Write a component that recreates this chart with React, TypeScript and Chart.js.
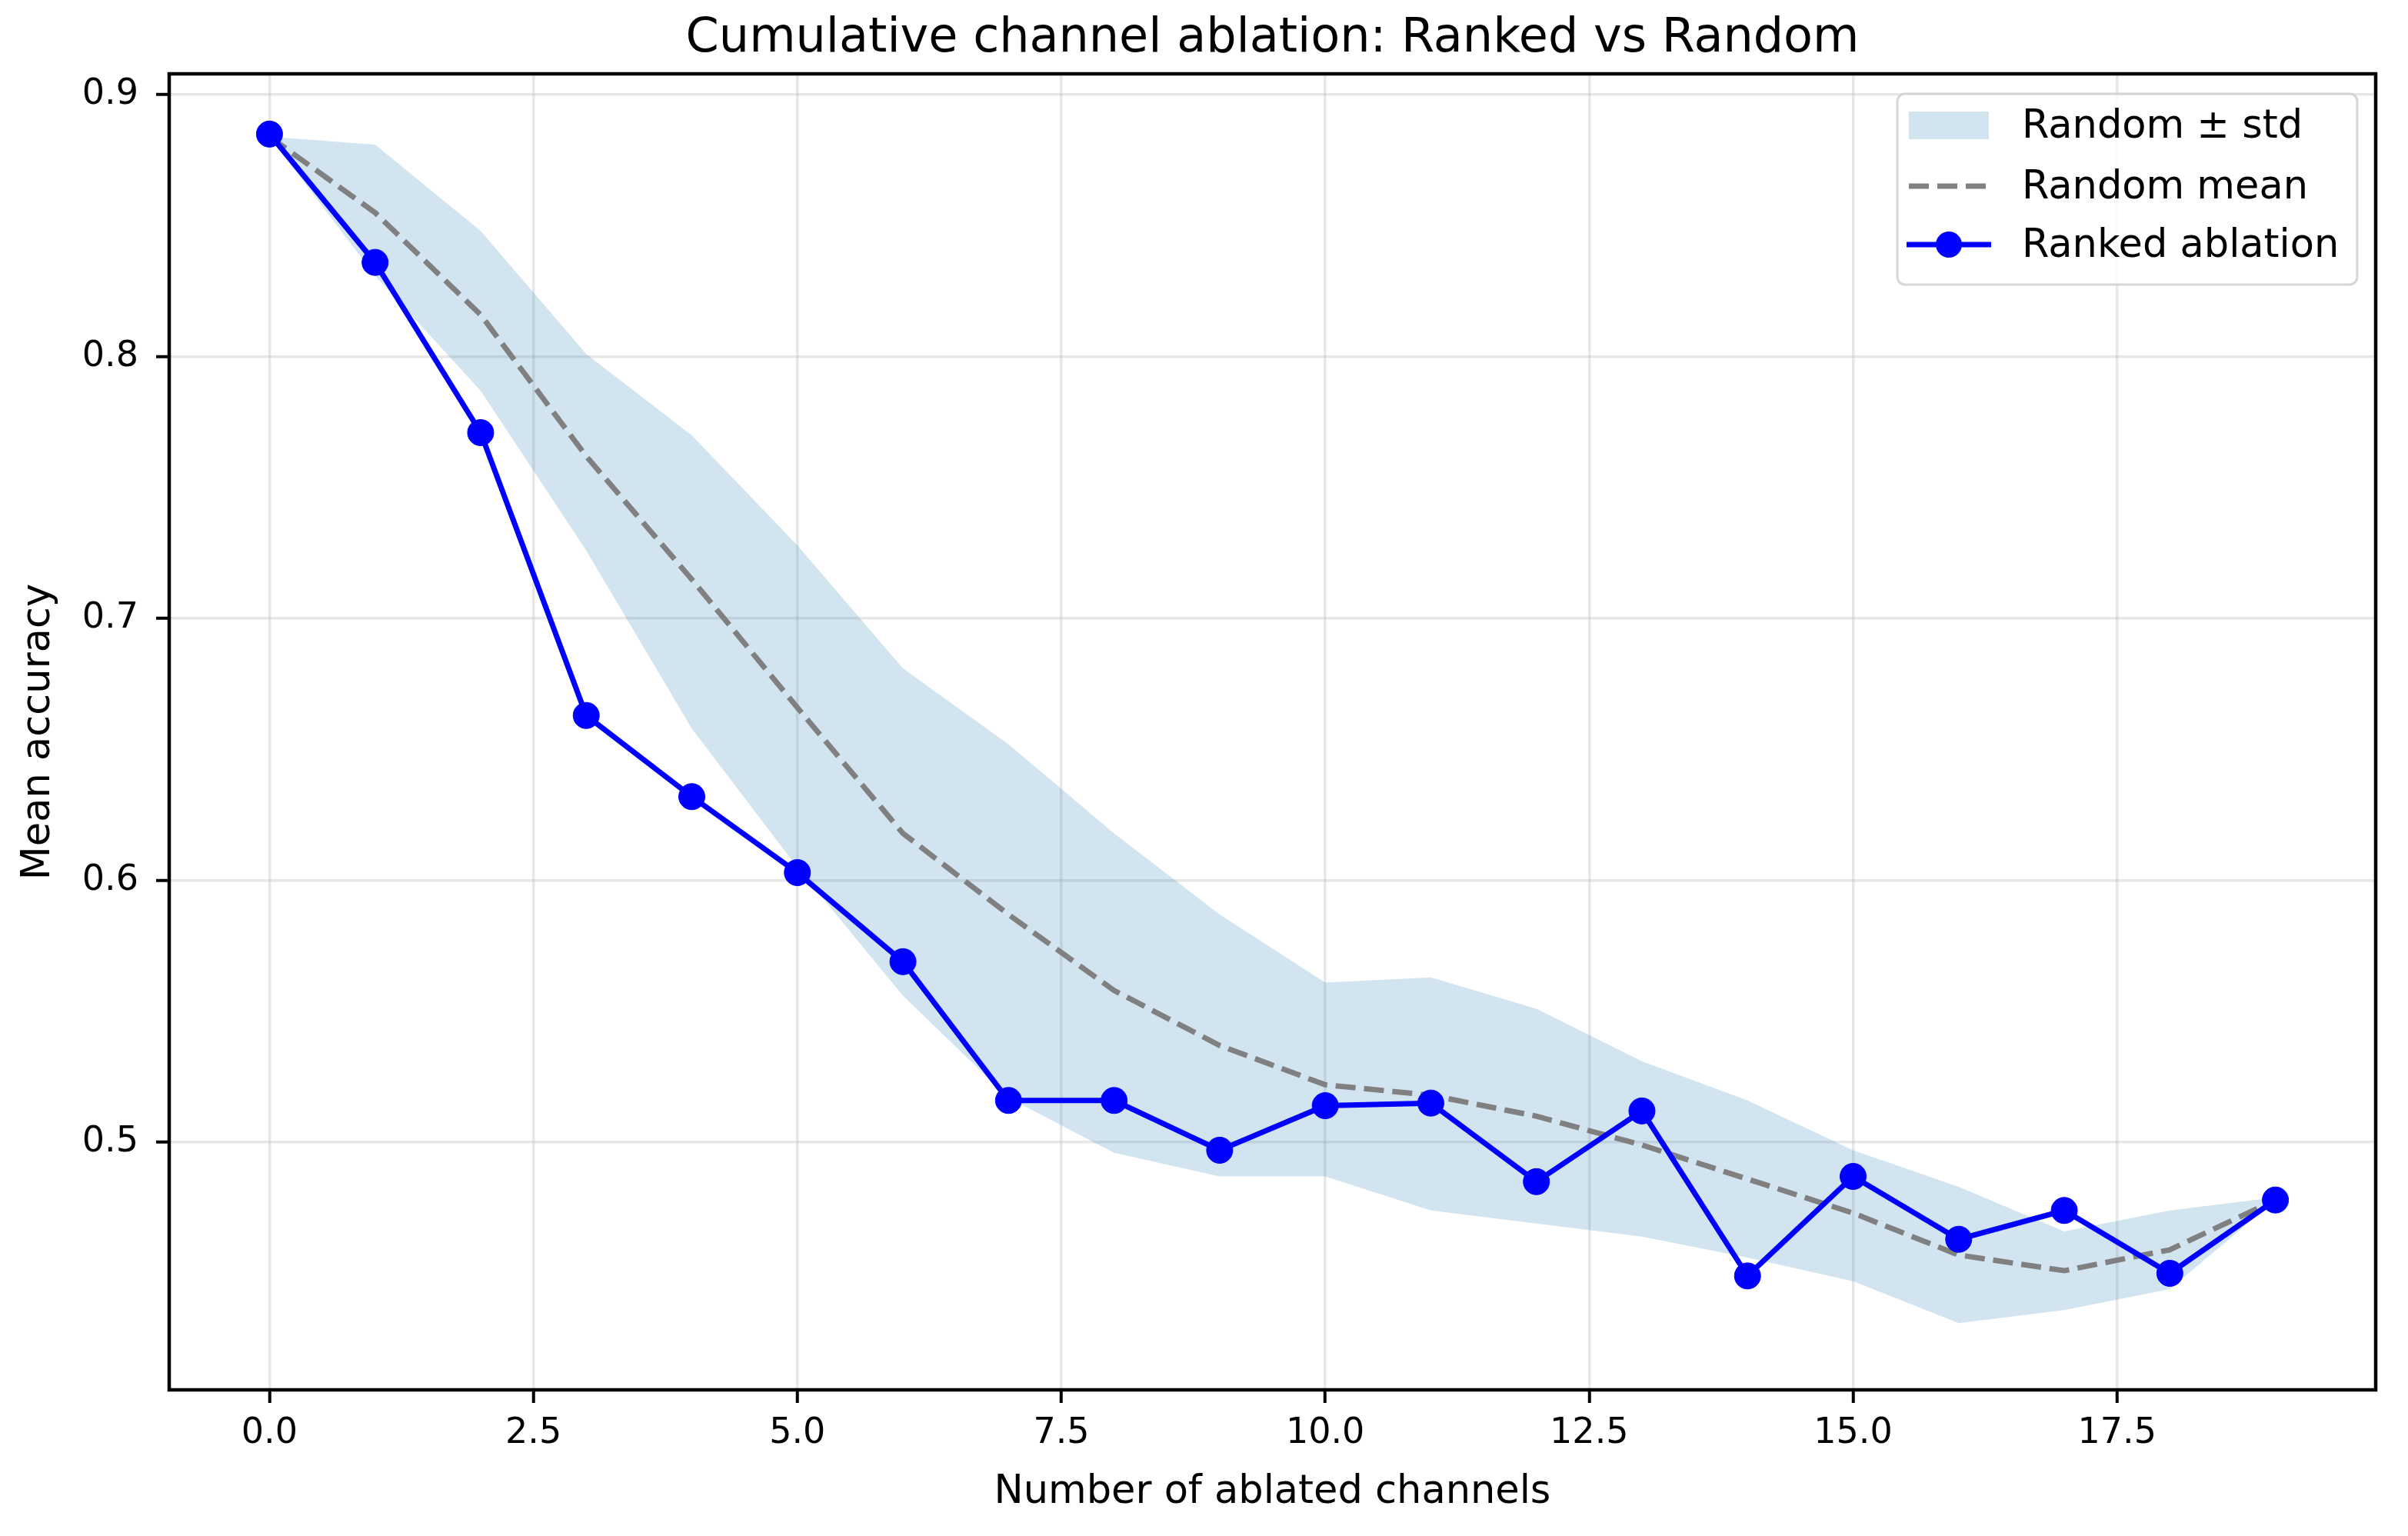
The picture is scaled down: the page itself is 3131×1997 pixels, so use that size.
import { useEffect, useRef } from 'react';
import { Chart, registerables } from 'chart.js';

Chart.register(...registerables);

const TITLE = 'Cumulative channel ablation: Ranked vs Random';
const X_LABEL = 'Number of ablated channels';
const Y_LABEL = 'Mean accuracy';

const channels = [0, 1, 2, 3, 4, 5, 6, 7, 8, 9, 10, 11, 12, 13, 14, 15, 16, 17, 18, 19];
const rankedAcc = [0.885, 0.836, 0.771, 0.663, 0.632, 0.603, 0.569, 0.516, 0.516, 0.497, 0.514, 0.515, 0.485, 0.512, 0.449, 0.487, 0.463, 0.474, 0.450, 0.478];
const randomMean = [0.884, 0.855, 0.816, 0.762, 0.715, 0.666, 0.618, 0.587, 0.558, 0.537, 0.522, 0.518, 0.510, 0.499, 0.486, 0.473, 0.457, 0.451, 0.459, 0.478];
const randomUpper = [0.884, 0.881, 0.848, 0.801, 0.770, 0.728, 0.681, 0.652, 0.618, 0.587, 0.561, 0.563, 0.551, 0.531, 0.516, 0.497, 0.483, 0.466, 0.474, 0.479];
const randomLower = [0.884, 0.831, 0.787, 0.726, 0.658, 0.605, 0.556, 0.517, 0.496, 0.487, 0.487, 0.474, 0.469, 0.464, 0.456, 0.447, 0.431, 0.436, 0.444, 0.478];

const xTicks = [0, 2.5, 5, 7.5, 10, 12.5, 15, 17.5];
const yTicks = [0.5, 0.6, 0.7, 0.8, 0.9];

const LBL_BAND = 'Random ± std';
const LBL_MEAN = 'Random mean';
const LBL_RANKED = 'Ranked ablation';

const FONT = '"DejaVu Sans", sans-serif';

const pts = (ys: number[]) => channels.map((c, i) => ({ x: c, y: ys[i] }));

const decorPlugin = {
  id: 'decor',
  afterDatasetsDraw(chart: any) {
    const { ctx, chartArea: a } = chart;
    ctx.save();
    ctx.strokeStyle = '#000';
    ctx.lineWidth = 4.5;
    ctx.strokeRect(a.left, a.top, a.right - a.left, a.bottom - a.top);
    ctx.restore();
  },
  afterDraw(chart: any) {
    const { ctx, chartArea: a } = chart;
    const ds = chart.data.datasets;
    ctx.save();
    // title
    ctx.fillStyle = '#000';
    ctx.font = `62px ${FONT}`;
    ctx.textAlign = 'center';
    ctx.textBaseline = 'alphabetic';
    ctx.fillText(TITLE, (a.left + a.right) / 2, 67);

    // legend
    const bw = 598, bh = 248;
    const bx = a.right - 24 - bw;
    const by = a.top + 26;
    ctx.beginPath();
    ctx.roundRect(bx, by, bw, bh, 10);
    ctx.fillStyle = 'rgba(255,255,255,0.8)';
    ctx.fill();
    ctx.lineWidth = 3;
    ctx.strokeStyle = 'rgba(204,204,204,0.8)';
    ctx.stroke();

    const hx = bx + 15, hw = 104;
    const rows = [by + 41, by + 120, by + 196];
    const band = ds.find((d: any) => d.label === LBL_BAND);
    const mean = ds.find((d: any) => d.label === LBL_MEAN);
    const ranked = ds.find((d: any) => d.label === LBL_RANKED);

    ctx.fillStyle = band.backgroundColor;
    ctx.fillRect(hx, rows[0] - 18, hw, 36);

    ctx.beginPath();
    ctx.setLineDash(mean.borderDash);
    ctx.lineWidth = mean.borderWidth;
    ctx.strokeStyle = mean.borderColor;
    ctx.moveTo(hx, rows[1]);
    ctx.lineTo(hx + hw, rows[1]);
    ctx.stroke();
    ctx.setLineDash([]);

    ctx.beginPath();
    ctx.lineWidth = ranked.borderWidth;
    ctx.strokeStyle = ranked.borderColor;
    ctx.moveTo(hx - 3, rows[2]);
    ctx.lineTo(hx + hw + 3, rows[2]);
    ctx.stroke();
    ctx.beginPath();
    ctx.fillStyle = ranked.backgroundColor;
    ctx.arc(hx + hw / 2, rows[2], ranked.pointRadius, 0, Math.PI * 2);
    ctx.fill();

    ctx.fillStyle = '#000';
    ctx.font = `51px ${FONT}`;
    ctx.textAlign = 'left';
    ctx.textBaseline = 'middle';
    [LBL_BAND, LBL_MEAN, LBL_RANKED].forEach((t, i) => ctx.fillText(t, bx + 162, rows[i] + 3));
    ctx.restore();
  },
};

export default function App() {
  const ref = useRef<HTMLCanvasElement | null>(null);
  useEffect(() => {
    if (!ref.current) return;
    const gridCommon = {
      color: 'rgba(176,176,176,0.3)',
      lineWidth: 3.5,
      tickColor: '#000',
      tickWidth: 4,
      tickLength: 17,
      drawTicks: true,
    };
    const chart = new Chart(ref.current, {
      type: 'line',
      data: {
        datasets: [
          {
            label: LBL_RANKED,
            data: pts(rankedAcc),
            borderColor: '#0000ff',
            backgroundColor: '#0000ff',
            borderWidth: 7,
            pointRadius: 17,
            pointHoverRadius: 17,
            pointBorderWidth: 1,
            pointBorderColor: '#0000ff',
            pointBackgroundColor: '#0000ff',
            fill: false,
            tension: 0,
            order: 0,
          },
          {
            label: LBL_MEAN,
            data: pts(randomMean),
            borderColor: '#808080',
            borderDash: [26, 11],
            borderWidth: 7,
            pointRadius: 0,
            fill: false,
            tension: 0,
            order: 1,
          },
          {
            label: LBL_BAND,
            data: pts(randomUpper),
            borderColor: 'transparent',
            borderWidth: 0,
            pointRadius: 0,
            backgroundColor: 'rgba(31,119,180,0.2)',
            fill: '+1',
            tension: 0,
            order: 2,
          },
          {
            label: 'Random − std',
            data: pts(randomLower),
            borderColor: 'transparent',
            borderWidth: 0,
            pointRadius: 0,
            fill: false,
            tension: 0,
            order: 3,
          },
        ] as any,
      },
      options: {
        animation: false,
        responsive: false,
        devicePixelRatio: 1,
        events: [],
        layout: { padding: { top: 96, right: 42, left: 0, bottom: 0 } },
        plugins: {
          legend: { display: false },
          title: { display: false },
          tooltip: { enabled: false },
        },
        scales: {
          x: {
            type: 'linear',
            min: -0.95,
            max: 19.95,
            afterBuildTicks: (s: any) => {
              s.ticks = xTicks.map((v) => ({ value: v }));
            },
            afterFit: (s: any) => {
              s.height = 190;
            },
            ticks: {
              callback: (v: any) => Number(v).toFixed(1),
              font: { family: FONT, size: 46 },
              color: '#000',
              padding: 12,
              maxRotation: 0,
              autoSkip: false,
            },
            grid: gridCommon,
            border: { display: false },
            title: {
              display: true,
              text: X_LABEL,
              font: { family: FONT, size: 51 },
              color: '#000',
              padding: { top: 0, bottom: 26 },
            },
          },
          y: {
            type: 'linear',
            min: 0.4055,
            max: 0.908,
            afterBuildTicks: (s: any) => {
              s.ticks = yTicks.map((v) => ({ value: v }));
            },
            afterFit: (s: any) => {
              s.width = 220;
            },
            ticks: {
              callback: (v: any) => Number(v).toFixed(1),
              font: { family: FONT, size: 46 },
              color: '#000',
              padding: 23,
              autoSkip: false,
            },
            grid: gridCommon,
            border: { display: false },
            title: {
              display: true,
              text: Y_LABEL,
              font: { family: FONT, size: 51 },
              color: '#000',
              padding: { top: 20, bottom: 0 },
            },
          },
        },
      } as any,
      plugins: [decorPlugin],
    });
    return () => chart.destroy();
  }, []);

  return (
    <div style={{ position: 'fixed', left: 0, top: 0, width: 3131, height: 1997, background: '#fff' }}>
      <canvas ref={ref} width={3131} height={1997} style={{ display: 'block', width: 3131, height: 1997 }} />
    </div>
  );
}
